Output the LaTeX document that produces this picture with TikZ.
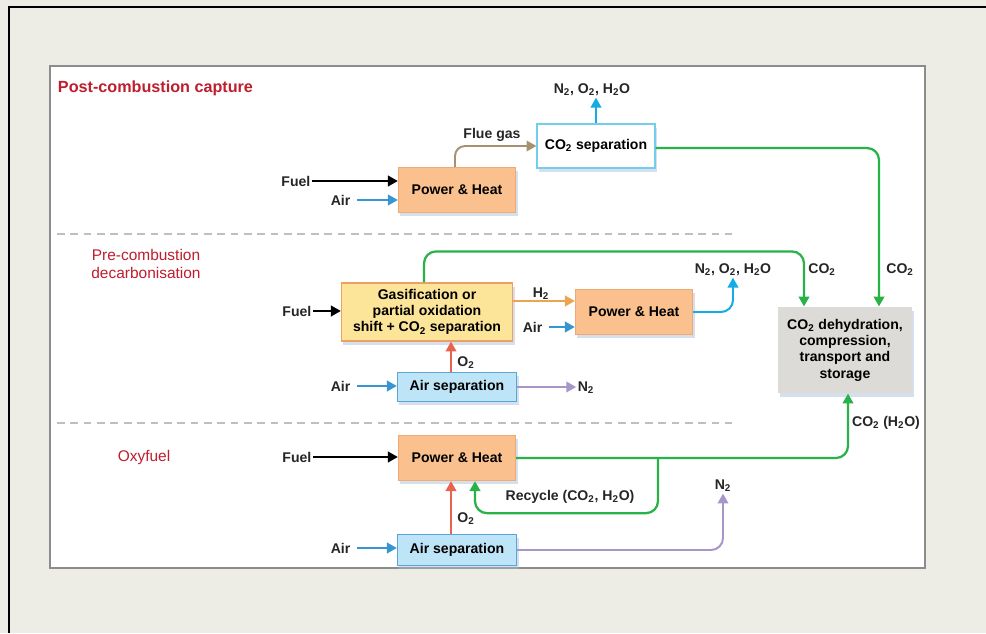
\documentclass[tikz,border=0pt]{standalone}
\usepackage{fontspec}
\setmainfont{Liberation Sans}
\usetikzlibrary{arrows.meta,calc,shadows}
\definecolor{fond}{RGB}{237,236,229}
\definecolor{titre}{RGB}{190,30,45}
\definecolor{orfill}{RGB}{250,193,142}
\definecolor{ordraw}{RGB}{236,170,118}
\definecolor{jafill}{RGB}{252,229,152}
\definecolor{jadraw}{RGB}{238,160,100}
\definecolor{blfill}{RGB}{190,228,248}
\definecolor{bldraw}{RGB}{90,165,215}
\definecolor{grfill}{RGB}{221,219,215}
\definecolor{ombre}{RGB}{165,185,215}
\definecolor{airc}{RGB}{55,150,210}
\definecolor{cyanc}{RGB}{20,172,228}
\definecolor{vertc}{RGB}{40,178,72}
\definecolor{fluec}{RGB}{168,145,112}
\definecolor{h2c}{RGB}{236,164,82}
\definecolor{o2c}{RGB}{232,98,78}
\definecolor{n2c}{RGB}{168,150,202}
\begin{document}
\begin{tikzpicture}[x=0.025cm,y=-0.025cm]
\tikzset{bloc/.style={draw, line width=0.8pt, inner sep=0pt, align=center, font=\fontsize{10}{11.6}\selectfont\bfseries, drop shadow={shadow xshift=0.5mm, shadow yshift=-0.9mm, fill=ombre, opacity=0.45}},
  phbloc/.style={bloc, fill=orfill, draw=ordraw, minimum width=2.93cm, minimum height=1.13cm},
  gasbloc/.style={bloc, fill=jafill, draw=jadraw, minimum width=4.28cm, minimum height=1.45cm},
  asbloc/.style={bloc, fill=blfill, draw=bldraw, minimum width=2.98cm, minimum height=0.72cm},
  sepbloc/.style={bloc, fill=white, draw=cyanc!60, drop shadow={opacity=0}, minimum width=2.95cm, minimum height=1.1cm},
  stobloc/.style={bloc, fill=grfill, draw=none, minimum width=3.35cm, minimum height=2.15cm},
  etiq/.style={font=\fontsize{10}{12}\selectfont\bfseries, inner sep=1pt, text=black!85},
  titr/.style={font=\fontsize{11}{13}\selectfont, text=titre, align=center},
  fl/.style={-{Triangle[length=7pt,width=7.5pt]}, line width=1.4pt},
  afl/.style={fl, airc, shorten <=1.2mm},
  vfl/.style={fl, vertc, line width=1.6pt, rounded corners=3mm},
  sep/.style={draw=black!25, line width=1.3pt, dash pattern=on 5.5pt off 4pt}}
\useasboundingbox (0,0) rectangle (986,633);
\fill[fond] (0,0) rectangle (986,633);
\draw[line width=1.6pt] (9,633) -- (9,7) -- (986,7);
\draw[fill=white, draw=black!45, line width=0.9pt] (50,66) rectangle (925,568);
\draw[sep] (57,234) -- (732,234);
\draw[sep] (57,423) -- (732,423);
\node[titr, font=\fontsize{11.5}{13}\selectfont\bfseries, anchor=west] (t1) at (53,88) {Post-combustion capture};
\node[titr] (t2) at (146,264) {Pre-combustion\\decarbonisation};
\node[titr] (t3) at (144,457) {Oxyfuel};
\node[phbloc] (ph1) at (457,190) {Power \& Heat};
\node[sepbloc] (cosep) at (596,146) {CO\textsubscript{2} separation};
\node[gasbloc] (gasif) at (427,312) {Gasification or\\partial oxidation\\shift + CO\textsubscript{2} separation};
\node[phbloc] (ph2) at (634,312) {Power \& Heat};
\node[asbloc] (asep1) at (457,387) {Air separation};
\node[stobloc] (store) at (845,350) {CO\textsubscript{2} dehydration,\\compression,\\transport and\\storage};
\node[phbloc] (ph3) at (457,458) {Power \& Heat};
\node[asbloc, minimum height=0.76cm] (asep2) at (457,550) {Air separation};
\node[etiq, anchor=east] (fuel1) at (312,181) {Fuel};
\node[etiq, anchor=east] (air1) at (352,200) {Air};
\node[etiq] (exh1) at (592,90) {N\textsubscript{2}, O\textsubscript{2}, H\textsubscript{2}O};
\node[etiq] (flue) at (492,135) {Flue gas};
\node[etiq] (co2a) at (900,270) {CO\textsubscript{2}};
\node[etiq] (co2b) at (822,270) {CO\textsubscript{2}};
\node[etiq, anchor=east] (fuel2) at (313,311) {Fuel};
\node[etiq] (h2) at (541,294) {H\textsubscript{2}};
\node[etiq, anchor=east] (air2) at (544,327) {Air};
\node[etiq] (exh2) at (733,270) {N\textsubscript{2}, O\textsubscript{2}, H\textsubscript{2}O};
\node[etiq] (o2a) at (466,363) {O\textsubscript{2}};
\node[etiq, anchor=east] (air3) at (352,386) {Air};
\node[etiq] (n2a) at (586,388) {N\textsubscript{2}};
\node[etiq] (co2c) at (886,423) {CO\textsubscript{2} (H\textsubscript{2}O)};
\node[etiq, anchor=east] (fuel3) at (313,457) {Fuel};
\node[etiq] (recy) at (570,497) {Recycle (CO\textsubscript{2}, H\textsubscript{2}O)};
\node[etiq] (o2b) at (466,519) {O\textsubscript{2}};
\node[etiq, anchor=east] (air4) at (352,548) {Air};
\node[etiq] (n2b) at (723,486) {N\textsubscript{2}};
\coordinate (rc) at (658,458);
\draw[fl] (fuel1) -- (fuel1 -| ph1.west);
\draw[afl] (air1) -- (air1 -| ph1.west);
\draw[fl, fluec, rounded corners=2.5mm] ($(ph1.north)+(-2,0)$) |- (cosep.west);
\draw[fl, cyanc] (cosep.north) -- (cosep.north |- exh1.south);
\draw[vfl] ($(cosep.east)+(0,2)$) -| ($(store.north)+(34,0)$);
\draw[fl] (fuel2) -- (fuel2 -| gasif.west);
\draw[vfl] ($(gasif.north)+(-3,0)$) -- ++(0,-31) -| ($(store.north)+(-41,0)$);
\draw[fl, h2c] ($(gasif.east)+(0,-11)$) -- ($(ph2.west)+(0,-11)$);
\draw[afl] (air2) -- (air2 -| ph2.west);
\draw[fl, cyanc, rounded corners=3mm] (ph2.east) -| (exh2.south);
\draw[fl, o2c] ($(asep1.north)+(-6,0)$) -- ($(gasif.south)+(24,0)$);
\draw[afl] (air3) -- (air3 -| asep1.west);
\draw[fl, n2c] (asep1.east) -- (asep1.east -| n2a.west);
\draw[fl] (fuel3) -- (fuel3 -| ph3.west);
\draw[vfl] (ph3.east) -| ($(store.south)+(3,0)$);
\draw[vfl] (rc) |- ($(ph3.south)+(18,32)$) -- ($(ph3.south)+(18,0)$);
\draw[fl, o2c] ($(asep2.north)+(-6,0)$) -- ($(ph3.south)+(-6,0)$);
\draw[afl] (air4) -- (air4 -| asep2.west);
\draw[fl, n2c, rounded corners=3mm] (asep2.east) -| (n2b.south);
\end{tikzpicture}
\end{document}
